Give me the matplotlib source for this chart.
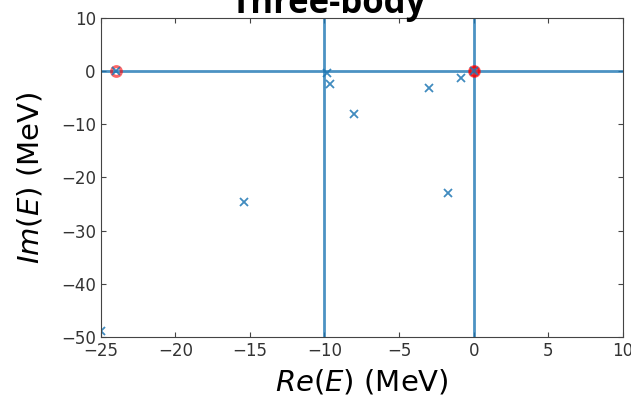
import matplotlib as mpl
mpl.use('Agg')
import matplotlib.pyplot as plt

# poles found in the complex energy plane (three-body)
re_poles = [-9.86, -9.6, -8.05, -3.0, -0.85, -1.7, -15.4, -25.0, 0.0, -24.0]
im_poles = [-0.4, -2.3, -8.1, -3.2, -1.2, -23.0, -24.7, -48.9, 0.0, 0.0]

# bound states / thresholds (red circles)
re_bound = [-24.0, 0.0]
im_bound = [0.0, 0.0]

thresholds = [-10.0, 0.0]

fig = plt.figure(figsize=(6.31, 3.97), dpi=100)
ax = fig.add_axes([0.1596, 0.1519, 0.8274, 0.802])

ax.axhline(0, color='C0', lw=2, alpha=0.8)
for t in thresholds:
    ax.axvline(t, color='C0', lw=2, alpha=0.8)

ax.plot(re_bound, im_bound, 'o', color='red', alpha=0.6, ms=7, mfc='none', mew=2.2)
ax.plot(re_bound[1:], im_bound[1:], 'o', color='red', alpha=0.6, ms=7)
ax.plot(re_poles, im_poles, 'x', color='C0', alpha=0.85, ms=5.5, mew=1.3)

ax.set_xlim(-25, 10)
ax.set_ylim(-50, 10)
for s in ax.spines.values():
    s.set_color('#444444')
ax.tick_params(direction='in', top=True, right=True, labelsize=12,
               labelcolor='#333333', color='#444444')
ax.set_xlabel(r'$Re(E)$ (MeV)', fontsize=21, labelpad=6)
ax.set_ylabel(r'$Im(E)$ (MeV)', fontsize=21, labelpad=12)

fig.text(328 / 631, 1 - 13 / 397, 'Three-body', ha='center', va='baseline',
         fontsize=25, fontweight='bold', family='Open Sans')

fig.savefig('out.png', dpi=100)
